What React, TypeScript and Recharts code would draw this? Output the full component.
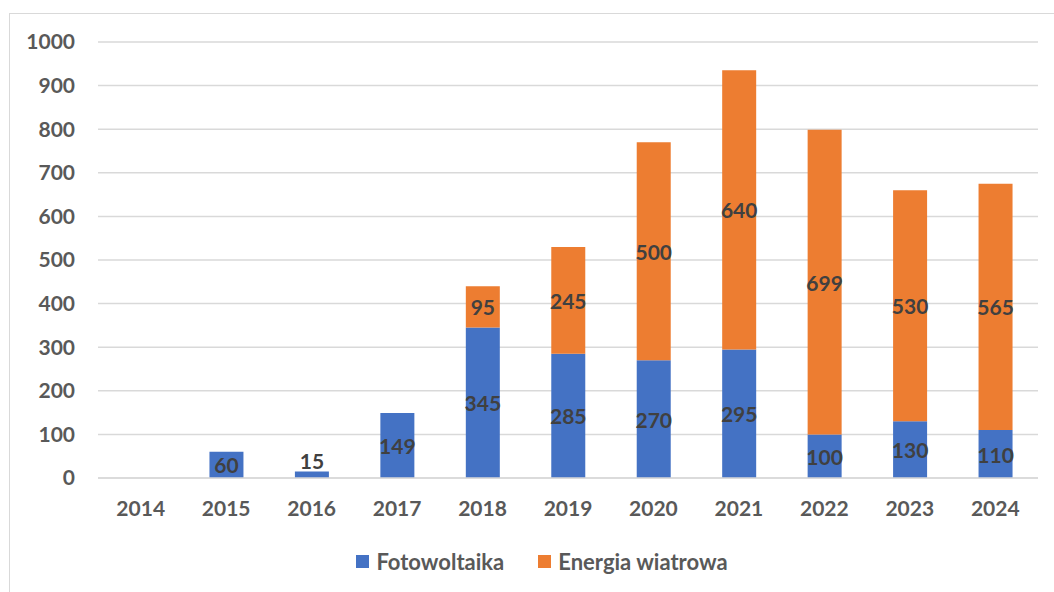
import React from 'react'
import { Bar, BarChart, CartesianGrid, LabelList, Legend, XAxis, YAxis } from 'recharts'

const years = ['2014', '2015', '2016', '2017', '2018', '2019', '2020', '2021', '2022', '2023', '2024']
const pvValues = [0, 60, 15, 149, 345, 285, 270, 295, 100, 130, 110]
const windValues = [0, 0, 0, 0, 95, 245, 500, 640, 699, 530, 565]
const yTicks = [0, 100, 200, 300, 400, 500, 600, 700, 800, 900, 1000]

const chartData = years.map((year, i) => ({ year, pv: pvValues[i], wind: windValues[i] }))

const FONT = 'Lato, "Open Sans", sans-serif'
const BLUE = '#4472C4'
const ORANGE = '#ED7D31'

const BarLabel = (props: any) => {
  const { x, y, width, height, value } = props
  if (!value) return null
  const small = Math.abs(height) < 20
  const cx = x + width / 2
  const cy = small ? y - 11 : y + height / 2
  return (
    <text x={cx} y={cy} textAnchor="middle" dominantBaseline="central" fill="#404040"
      fontFamily={FONT} fontWeight={700} fontSize={21}>
      {value}
    </text>
  )
}

const LegendContent = () => (
  <div style={{ display: 'flex', justifyContent: 'center', paddingLeft: 30, fontFamily: FONT, fontWeight: 700, fontSize: 22, color: '#595959' }}>
    {[['Fotowoltaika', BLUE], ['Energia wiatrowa', ORANGE]].map(([name, color], i) => (
      <div key={name} style={{ display: 'flex', alignItems: 'center', marginLeft: i ? 34 : 0 }}>
        <span style={{ width: 13, height: 13, background: color, marginRight: 7, display: 'inline-block' }} />
        <span>{name}</span>
      </div>
    ))}
  </div>
)

const App = () => {
  return (
    <div style={{ position: 'fixed', left: 0, top: 0, width: 1054, height: 592, overflow: 'hidden', background: '#fff' }}>
      <div style={{ position: 'absolute', left: 9, top: 13, width: 1100, height: 700, border: '1px solid #d9d9d9' }} />
      <div style={{ position: 'absolute', left: 0, top: 0 }}>
        <BarChart width={1054} height={592} data={chartData} margin={{ top: 42, right: 16, left: 28, bottom: 64 }}>
          <CartesianGrid vertical={false} stroke="#d9d9d9" strokeWidth={1.5} />
          <XAxis dataKey="year" axisLine={{ stroke: '#d9d9d9', strokeWidth: 1.5 }} tickLine={false} tickSize={0}
            tickMargin={23} height={50}
            tick={{ fill: '#595959', fontFamily: FONT, fontWeight: 700, fontSize: 21 }} />
          <YAxis domain={[0, 1000]} ticks={yTicks} axisLine={false} tickLine={false} tickSize={0} tickMargin={23}
            width={70} interval={0}
            tick={{ fill: '#595959', fontFamily: FONT, fontWeight: 700, fontSize: 21 }} />
          <Legend layout="horizontal" verticalAlign="middle" align="center" content={<LegendContent />}
            wrapperStyle={{ top: 548, left: 0, width: 1054 }} />
          <Bar dataKey="pv" name="Fotowoltaika" stackId="a" fill={BLUE} barSize={34} isAnimationActive={false}>
            <LabelList dataKey="pv" content={<BarLabel />} />
          </Bar>
          <Bar dataKey="wind" name="Energia wiatrowa" stackId="a" fill={ORANGE} barSize={34} isAnimationActive={false}>
            <LabelList dataKey="wind" content={<BarLabel />} />
          </Bar>
        </BarChart>
      </div>
    </div>
  )
}

export default App
